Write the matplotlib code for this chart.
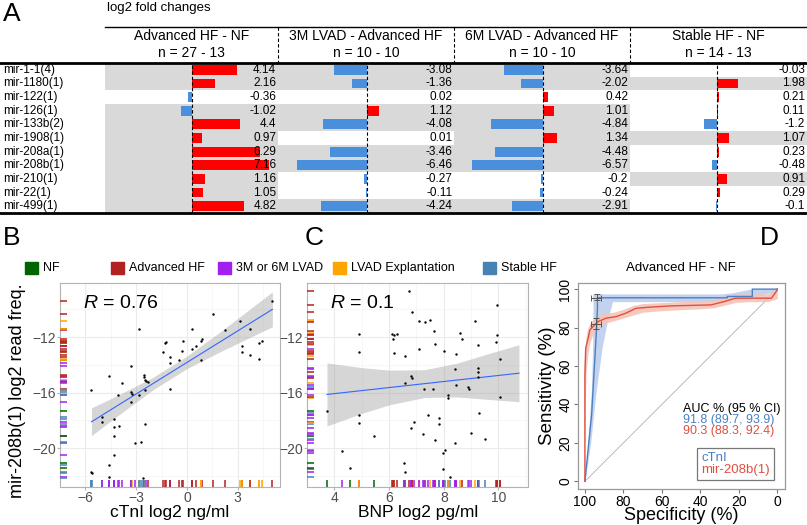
import matplotlib.pyplot as plt
import numpy as np
from matplotlib.lines import Line2D
from matplotlib.patches import Rectangle

plt.rcParams['font.family'] = ['Liberation Sans', 'DejaVu Sans']
plt.rcParams['mathtext.fontset'] = 'custom'
plt.rcParams['mathtext.it'] = 'Liberation Sans:italic'
plt.rcParams['mathtext.rm'] = 'Liberation Sans'

######################
##  Panel A data    ##
######################
mirnas = ["mir-1-1(4)", "mir-1180(1)", "mir-122(1)", "mir-126(1)", "mir-133b(2)",
          "mir-1908(1)", "mir-208a(1)", "mir-208b(1)", "mir-210(1)", "mir-22(1)", "mir-499(1)"]
comparisons = ["Advanced HF - NF", "3M LVAD - Advanced HF", "6M LVAD - Advanced HF", "Stable HF - NF"]
sample_sizes = ["n = 27 - 13", "n = 10 - 10", "n = 10 - 10", "n = 14 - 13"]
fc_adv_nf = [4.14, 2.16, -0.36, -1.02, 4.4, 0.97, 6.29, 7.16, 1.16, 1.05, 4.82]
fc_3m_lvad = [-3.08, -1.36, 0.02, 1.12, -4.08, 0.01, -3.46, -6.46, -0.27, -0.11, -4.24]
fc_6m_lvad = [-3.64, -2.02, 0.42, 1.01, -4.84, 1.34, -4.48, -6.57, -0.2, -0.24, -2.91]
fc_stable = [-0.03, 1.98, 0.21, 0.11, -1.2, 1.07, 0.23, -0.48, 0.91, 0.29, -0.1]
# shaded cells = significant
sig_adv_nf = [1, 1, 0, 1, 1, 1, 1, 1, 1, 1, 1]
sig_3m_lvad = [1, 1, 0, 1, 1, 0, 1, 1, 0, 0, 1]
sig_6m_lvad = [1, 1, 0, 1, 1, 1, 1, 1, 0, 0, 1]
sig_stable = [0, 1, 0, 0, 0, 1, 0, 0, 1, 0, 0]

######################
##  Panel B/C data  ##
######################
group_names = ["NF", "Advanced HF", "3M or 6M LVAD", "LVAD Explantation", "Stable HF"]
group_codes = ["N", "A", "L", "E", "S"]
group_colors = {"N": "#006400", "A": "#B22222", "L": "#A020F0", "E": "#FFA500", "S": "#4682B4"}

ctni_x = [5.05, 1.55, 3.11, 2.24, 3.73, 0.28, -2.85, 4.43, 4.25, 0.9, 0.81, -0.26, -1.21, -1.32,
          0.53, 0.31, 3.24, 3.26, -0.29, -1.41, -0.98, -0.98, -0.45, 0.81, 3.73, 4.25, -3.3, -4.63,
          -2.54, -2.54, -2.49, -2.44, -2.31, -3.82, -1.02, -2.49, -3.32, -3.27, -3.32, -4.07, -2.85,
          -5.64, -5.04, -5.04, -4.31, -4.28, -4.03, -4.3, -2.47, -3.06, -2.74, -4.31, -4.63, -5.64,
          -5.62, -4.63, -2.58]
ctni_mir = [-9.39, -10.3, -10.87, -11.5, -11.43, -11.4, -11.45, -12.3, -12.4, -12.1, -12.3, -12.3,
            -12.36, -12.4, -12.65, -12.89, -12.67, -13.08, -13.0, -13.08, -13.46, -13.84, -13.68,
            -13.63, -13.3, -13.6, -14.06, -14.78, -14.71, -14.9, -15.07, -15.16, -15.26, -15.3,
            -15.72, -15.79, -15.98, -16.12, -16.7, -16.15, -16.15, -15.84, -17.73, -18.09, -17.9,
            -18.45, -18.38, -19.1, -18.24, -19.6, -19.53, -20.5, -21.23, -21.69, -21.76, -22.1, -22.12]
ctni_group = list("AAEAEAEEEAEAAAAAAEAAALAEAELLAAELALAESELLSSSLSLLLSLSLSSSLS")
# lm fit and 95% band as drawn
ctni_fit_x = [-5.64, -4, -2, 0, 2, 4, 5.05]
ctni_fit_lo = [-19.1, -17.58, -15.79, -14.27, -13.03, -11.86, -11.26]
ctni_fit_hi = [-17.1, -16.14, -14.89, -13.37, -11.59, -9.72, -8.74]
ctni_line_x = [-5.64, 5.05]
ctni_line_y = [-18.1, -10.0]

bnp_x = [6.72, 6.83, 9.94, 9.16, 7.09, 7.32, 7.5, 7.65, 4.91, 6.11, 6.18, 6.3, 6.14, 8.6, 8.66,
         9.96, 9.91, 9.27, 7.68, 7.09, 4.91, 6.18, 6.6, 8.0, 8.46, 10.05, 8.4, 9.24, 9.24, 9.24,
         6.8, 6.83, 6.6, 7.26, 7.61, 8.44, 8.9, 8.93, 8.16, 8.16, 10.05, 7.44, 7.81, 7.81, 6.9,
         6.82, 9.29, 7.23, 7.67, 8.98, 9.51, 8.42, 8.06, 7.99, 7.96, 8.21, 6.56, 6.59, 3.73, 4.91,
         4.91, 5.44, 4.29, 4.56]
bnp_mir = [-8.67, -10.2, -9.65, -10.85, -10.85, -10.92, -10.8, -11.57, -11.76, -11.8, -11.86,
           -11.78, -12.17, -11.73, -12.12, -11.88, -12.34, -12.58, -12.5, -12.82, -13.1, -13.13,
           -13.39, -12.98, -13.2, -13.6, -14.33, -14.25, -14.52, -14.86, -14.8, -14.93, -15.3,
           -15.76, -15.76, -15.48, -15.62, -15.72, -16.2, -16.37, -16.34, -17.61, -17.85, -18.24,
           -18.14, -18.57, -17.49, -19.0, -19.39, -18.9, -19.34, -19.65, -20.1, -20.37, -21.52,
           -22.05, -21.1, -21.69, -17.3, -17.59, -18.16, -19.15, -20.18, -21.42]
bnp_group = list("AAAEEAEAEAEAAEAAAEALEAEAAALLALLAELLLSLLEALLSLLSLLLSLSLLSNLNLENLN")
bnp_fit_x = [3.73, 5, 6, 7.3, 8.5, 9.5, 10.75]
bnp_fit_lo = [-18.4, -17.5, -16.88, -16.35, -16.31, -16.47, -16.65]
bnp_fit_hi = [-13.86, -14.2, -14.38, -14.35, -13.87, -13.27, -12.55]
bnp_line_x = [3.73, 10.75]
bnp_line_y = [-16.13, -14.6]

######################
##  Panel D data    ##
######################
ctni_spec = [100, 96.5, 94.2, 93.5, 93.5, 26, 26, 13, 13, 0]
ctni_sens = [0, 35, 75, 90, 95.5, 95.5, 96.2, 96.2, 100, 100]
mir_spec = [100, 100, 99.6, 98.3, 97.4, 95.8, 93.2, 89.0, 83.8, 78.7, 73.6, 66.8, 54.9, 34.5,
            27.7, 21.8, 3.0, 0.0, 0.0]
mir_sens = [0, 55.4, 69.3, 74.5, 78.8, 80.5, 83.1, 84.9, 85.7, 87.5, 90.0, 90.6, 91.3, 91.8,
            93.5, 95.3, 95.3, 99.6, 100]
# confidence bands
ctni_band_sens = [0, 20, 46, 70, 85, 94]
ctni_band_spec_hi = [100, 98.5, 96.7, 96.0, 95.8, 95.8]
ctni_band_spec_lo = [100, 97.0, 94.3, 91.0, 88.0, 85.5]
ctni_top_spec = [96, 86, 30, 24, 14, 8, 0]
ctni_top_lo = [93.5, 93.5, 93.5, 94, 95.5, 97, 99]
ctni_top_hi = [97.5, 97.5, 97.5, 98, 100, 100, 100]
mir_band_spec = [100.5, 99.5, 98.5, 97.5, 96, 94, 92, 89, 85, 80, 75, 70, 60, 50, 40, 33, 28, 22,
                 15, 5, 0]
mir_band_lo = [0, 55, 66, 72, 76, 79, 81, 82.5, 83.5, 85, 86.5, 88, 88.8, 89.3, 89.8, 90.3,
               91.5, 93, 93.5, 93.5, 95]
mir_band_hi = [60, 75, 80, 82, 84, 86, 87, 87.5, 88, 89.5, 91.5, 92.5, 93, 93.5, 94, 94.5, 96,
               97.5, 97.5, 97.5, 100]
# threshold CI crosses: centre, spec range, sens range
cross_spec = [93.5, 94.2]
cross_sens = [95.5, 82.0]
cross_spec_range = [(95.4, 90.3), (96.6, 91.5)]
cross_sens_range = [(94.4, 97.4), (79.1, 84.8)]
auc_lines = ["AUC % (95 % CI)", "91.8 (89.7, 93.9)", "90.3 (88.3, 92.4)"]

######################
##  Figure helpers  ##
######################
W, H = 807, 525
fig = plt.figure(figsize=(W / 100, H / 100), dpi=100)


def pax(x0, y0, x1, y1):
    return fig.add_axes([x0 / W, 1 - y1 / H, (x1 - x0) / W, (y1 - y0) / H])


def ftext(x, y, s, **kw):
    return fig.text(x / W, 1 - y / H, s, **kw)


def hline(x0, x1, y, **kw):
    fig.add_artist(Line2D([x0 / W, x1 / W], [1 - y / H, 1 - y / H], **kw))


def vline(x, y0, y1, **kw):
    fig.add_artist(Line2D([x / W, x / W], [1 - y0 / H, 1 - y1 / H], **kw))


################
##  Panel A   ##
################
ftext(3, 14, "A", fontsize=19, va='center')
ftext(107, 8, "log2 fold changes", fontsize=9.5, va='center')
hline(105, 807, 27, color='black', lw=1)

row_top, row_bot = 63, 213
n_rows = len(mirnas)
row_h = (row_bot - row_top) / n_rows
col_edges = [(105, 278), (278, 454), (454, 630), (630, 807)]
col_zero = [192, 367, 543, 717]
px_per_unit = 10.8
fc_cols = [fc_adv_nf, fc_3m_lvad, fc_6m_lvad, fc_stable]
sig_cols = [sig_adv_nf, sig_3m_lvad, sig_6m_lvad, sig_stable]

for i, name in enumerate(mirnas):
    ftext(3, row_top + row_h * (i + 0.5), name, fontsize=8.5, va='center')

for c, (x0, x1) in enumerate(col_edges):
    ax = pax(x0, row_top, x1, row_bot)
    ax.set_xlim((x0 - col_zero[c]) / px_per_unit, (x1 - col_zero[c]) / px_per_unit)
    ax.set_ylim(n_rows - 0.5, -0.5)
    ax.axis('off')
    vals = fc_cols[c]
    for i, v in enumerate(vals):
        if sig_cols[c][i]:
            ax.axhspan(i - 0.5, i + 0.5, color='#d9d9d9', lw=0, zorder=0)
    ax.barh(range(n_rows), vals, height=0.72,
            color=['#ff0000' if v > 0 else '#4a8fdc' for v in vals], zorder=2)
    ax.axvline(0, color='black', lw=0.8, ls=(0, (3, 2)), zorder=3)
    for i, v in enumerate(vals):
        ax.text(0.99, i, str(v), transform=ax.get_yaxis_transform(), ha='right',
                va='center', fontsize=8.5, zorder=4)
    cx = (x0 + x1) / 2
    ftext(cx, 36, comparisons[c], fontsize=10, ha='center', va='center')
    ftext(cx, 53, sample_sizes[c], fontsize=10, ha='center', va='center')
    if c > 0:
        vline(x0, 27, 63, color='black', lw=0.8, ls=(0, (3, 2)))

hline(0, 807, row_top, color='black', lw=2)
hline(0, 807, row_bot, color='black', lw=2)

###################
##  Panels B, C  ##
###################
ftext(3, 238, "B", fontsize=19, va='center')
ftext(305, 238, "C", fontsize=19, va='center')

legend_x = [25, 111, 218, 333, 483]
for name, code, lx in zip(group_names, group_codes, legend_x):
    fig.add_artist(Rectangle((lx / W, 1 - 274 / H), 13 / W, 12 / H, color=group_colors[code],
                             transform=fig.transFigure))
    ftext(lx + 18, 268, name, fontsize=9, va='center')


def scatter_panel(ax, x, y, groups, xticks, xlim, r_text, fit, extra_y=(), extra_groups=()):
    ax.set_xlim(*xlim)
    ax.set_ylim(-22.8, -8.1)
    # grid like ggplot
    ax.set_xticks(xticks)
    ax.set_yticks([-20, -16, -12])
    step = xticks[1] - xticks[0]
    ax.set_xticks(np.arange(xticks[0] - step / 2, xlim[1], step), minor=True)
    ax.set_yticks([-22, -18, -14, -10], minor=True)
    ax.grid(True, which='major', color='#ebebeb', lw=0.8)
    ax.grid(True, which='minor', color='#f4f4f4', lw=0.5)
    ax.set_axisbelow(True)
    for s in ax.spines.values():
        s.set_color('#b3b3b3')
        s.set_linewidth(0.8)
    ax.tick_params(which='major', length=2, color='#b3b3b3', labelcolor='#4d4d4d', labelsize=10,
                   pad=1)
    ax.tick_params(which='minor', length=0)
    # lm line with 95% band
    band_x, band_lo, band_hi, line_x, line_y = fit
    ax.fill_between(band_x, band_lo, band_hi, color='#999999', alpha=0.4, lw=0, zorder=2)
    ax.plot(line_x, line_y, color='#3366ff', lw=0.8, zorder=3)
    ax.scatter(x, y, s=3, color='black', zorder=4, lw=0)
    # rugs
    for yv, g in list(zip(y, groups)) + list(zip(extra_y, extra_groups)):
        ax.plot([0, 0.032], [yv, yv], transform=ax.get_yaxis_transform(),
                color=group_colors[g], lw=1.1, solid_capstyle='butt', zorder=5)
    for xv, g in zip(x, groups):
        ax.plot([xv, xv], [0, 0.033], transform=ax.get_xaxis_transform(),
                color=group_colors[g], lw=1.1, solid_capstyle='butt', zorder=5)
    ax.text(0.105, 0.9, r_text, transform=ax.transAxes, fontsize=14, va='center')


axB = pax(60, 283, 280, 487)
nf_y = [m for m, g in zip(bnp_mir, bnp_group) if g == "N"]
scatter_panel(axB, ctni_x, ctni_mir, ctni_group, [-6, -3, 0, 3], (-6.16, 5.5), r"$R$ = 0.76",
              (ctni_fit_x, ctni_fit_lo, ctni_fit_hi, ctni_line_x, ctni_line_y),
              nf_y, ["N"] * len(nf_y))
axC = pax(307, 283, 528, 487)
scatter_panel(axC, bnp_x, bnp_mir, bnp_group, [4, 6, 8, 10], (3.37, 11.08), r"$R$ = 0.1",
              (bnp_fit_x, bnp_fit_lo, bnp_fit_hi, bnp_line_x, bnp_line_y))

ftext(18, 391, "mir-208b(1) log2 read freq.", fontsize=13, rotation=90, ha='center',
      va='center')
ftext(170, 513, "cTnI log2 ng/ml", fontsize=12.5, ha='center', va='center')
ftext(418, 513, "BNP log2 pg/ml", fontsize=12.5, ha='center', va='center')

################
##  Panel D   ##
################
ftext(760, 238, "D", fontsize=19, va='center')
ftext(681, 268, "Advanced HF - NF", fontsize=9.5, ha='center', va='center')
blue, red = '#4a80c4', '#e0503e'
axD = pax(578, 283, 785, 489)
axD.set_xlim(103.6, -4)
axD.set_ylim(-4, 103.2)
axD.plot([100, 0], [0, 100], color='#b0b0b0', lw=0.6, zorder=1)
axD.fill_betweenx(ctni_band_sens, ctni_band_spec_lo, ctni_band_spec_hi, color='#c3d2ee', lw=0,
                  zorder=2)
axD.fill_between(ctni_top_spec, ctni_top_lo, ctni_top_hi, color='#c3d2ee', lw=0, zorder=2)
axD.fill_between(mir_band_spec, mir_band_lo, mir_band_hi, color='#f4c3b6', lw=0, zorder=2,
                 alpha=0.9)
axD.plot(ctni_spec, ctni_sens, color=blue, lw=1.0, zorder=3)
axD.plot(mir_spec, mir_sens, color=red, lw=1.0, zorder=3)
for sx, sy, sr, yr in zip(cross_spec, cross_sens, cross_spec_range, cross_sens_range):
    axD.errorbar(sx, sy, xerr=[[sr[0] - sx], [sx - sr[1]]], yerr=[[sy - yr[0]], [yr[1] - sy]],
                 color='#555555', lw=0.7, capsize=2, capthick=0.7, zorder=4)
axD.set_xticks([100, 80, 60, 40, 20, 0])
axD.set_yticks([0, 20, 40, 60, 80, 100])
axD.tick_params(length=3, color='#777777', labelsize=10, pad=1)
for lab in axD.get_yticklabels():
    lab.set_rotation(90)
    lab.set_va('center')
for s in axD.spines.values():
    s.set_color('#999999')
    s.set_linewidth(0.9)
for k, (txt, col) in enumerate(zip(auc_lines, ['black', blue, red])):
    axD.text(0.507, 0.388 - k * 0.054, txt, transform=axD.transAxes, color=col, fontsize=9,
             va='center')
leg = axD.legend(handles=[Line2D([], [], lw=0), Line2D([], [], lw=0)],
                 labels=["cTnI", "mir-208b(1)"], labelcolor=[blue, red], handlelength=0,
                 handletextpad=0, loc='lower right', bbox_to_anchor=(0.947, 0.044),
                 fontsize=9.5, fancybox=False, borderpad=0.3, labelspacing=0.0,
                 borderaxespad=0)
leg.get_frame().set_edgecolor('#555555')
leg.get_frame().set_linewidth(0.9)
ftext(681, 516, "Specificity (%)", fontsize=13, ha='center', va='center')
ftext(547, 386, "Sensitivity (%)", fontsize=13.5, rotation=90, ha='center', va='center')

fig.savefig("out.png", dpi=100)
